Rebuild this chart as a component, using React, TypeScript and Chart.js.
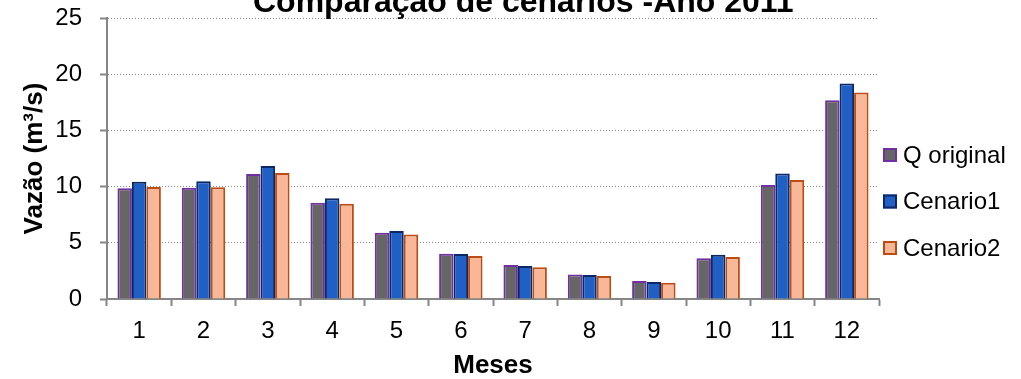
import React, { useEffect, useRef } from 'react';
import { Chart, registerables } from 'chart.js';

Chart.register(...registerables);

const months = ['1', '2', '3', '4', '5', '6', '7', '8', '9', '10', '11', '12'];
const qOriginal = [9.85, 9.9, 11.12, 8.57, 5.9, 4.03, 3.02, 2.19, 1.6, 3.62, 10.14, 17.7];
const cenario1 = [10.44, 10.47, 11.83, 8.96, 6.05, 4.0, 2.94, 2.13, 1.51, 3.94, 11.18, 19.19];
const cenario2 = [9.96, 9.94, 11.21, 8.48, 5.75, 3.83, 2.82, 2.05, 1.45, 3.74, 10.59, 18.39];
const seriesLabels = ['Q original', 'Cenario1', 'Cenario2'];
const yMin = 0;
const yMax = 25;
const yStep = 5;
const chartTitle = 'Comparação de cenários -Ano 2011';
const xTitle = 'Meses';
const yTitle = 'Vazão (m³/s)';

const FONT = '"Liberation Sans", Arial, Helvetica, sans-serif';

const titlePlugin = {
  id: 'clippedTitle',
  afterDraw(chart: any) {
    const ctx = chart.ctx;
    ctx.save();
    ctx.font = `bold 32px ${FONT}`;
    ctx.fillStyle = '#000000';
    ctx.textAlign = 'left';
    ctx.textBaseline = 'alphabetic';
    ctx.fillText(chartTitle, 253, 12);
    ctx.restore();
  },
};

const legendPlugin = {
  id: 'sideLegend',
  afterDraw(chart: any) {
    const ctx = chart.ctx;
    const x = chart.chartArea.right + 4;
    ctx.save();
    chart.data.datasets.forEach((ds: any, i: number) => {
      const cy = 155 + i * 46.5;
      ctx.fillStyle = ds.backgroundColor;
      ctx.fillRect(x, cy - 7, 14, 14);
      ctx.strokeStyle = ds.borderColor;
      ctx.lineWidth = 2;
      ctx.strokeRect(x + 1, cy - 6, 12, 12);
      ctx.font = `24px ${FONT}`;
      ctx.fillStyle = '#000000';
      ctx.textAlign = 'left';
      ctx.textBaseline = 'middle';
      ctx.fillText(ds.label, x + 20, cy + 1);
    });
    ctx.restore();
  },
};

export default function App() {
  const canvasRef = useRef<HTMLCanvasElement | null>(null);

  useEffect(() => {
    if (!canvasRef.current) return;
    const chart = new Chart(canvasRef.current, {
      type: 'bar',
      data: {
        labels: months,
        datasets: [
          {
            label: seriesLabels[0],
            data: qOriginal,
            backgroundColor: '#666666',
            borderColor: '#7030A0',
            borderWidth: 2,
          },
          {
            label: seriesLabels[1],
            data: cenario1,
            backgroundColor: '#2060C4',
            borderColor: '#0A2868',
            borderWidth: 2,
          },
          {
            label: seriesLabels[2],
            data: cenario2,
            backgroundColor: '#F8B898',
            borderColor: '#BC4C14',
            borderWidth: 2,
          },
        ],
      },
      options: {
        responsive: false,
        animation: false,
        devicePixelRatio: 1,
        layout: { padding: { top: 18, right: 142, left: 0, bottom: 0 } },
        datasets: {
          bar: { categoryPercentage: 0.675, barPercentage: 1 },
        },
        plugins: {
          legend: { display: false },
          title: { display: false },
          tooltip: { enabled: false },
        },
        scales: {
          x: {
            afterFit: (scale: any) => {
              scale.height = 80;
            },
            grid: {
              display: true,
              drawOnChartArea: false,
              drawTicks: true,
              tickLength: 7,
              tickColor: '#868686',
              tickWidth: 2,
              offset: true,
            },
            border: { display: true, color: '#868686', width: 2 },
            ticks: {
              color: '#000000',
              padding: 11,
              font: { family: FONT, size: 24 },
              maxRotation: 0,
              autoSkip: false,
            },
            title: {
              display: true,
              text: xTitle,
              color: '#000000',
              font: { family: FONT, size: 26, weight: 'bold' },
              padding: { top: 0, bottom: -2 },
            },
          },
          y: {
            min: yMin,
            max: yMax,
            afterFit: (scale: any) => {
              scale.width = 107;
            },
            grid: {
              display: true,
              drawOnChartArea: true,
              drawTicks: true,
              tickLength: 7,
              color: (c: any) => (c.tick && c.tick.value === 0 ? 'rgba(0,0,0,0)' : '#8c8c8c'),
              lineWidth: 1,
              tickColor: '#868686',
              tickWidth: 2,
            },
            border: { display: true, color: '#868686', width: 2, dash: [1, 2] },
            ticks: {
              stepSize: yStep,
              color: '#000000',
              padding: 18,
              font: { family: FONT, size: 24, lineHeight: 0.01 },
            },
            title: {
              display: true,
              text: yTitle,
              color: '#000000',
              font: { family: FONT, size: 26, weight: 'bold' },
              padding: { top: 19, bottom: 0 },
            },
          },
        },
      },
      plugins: [titlePlugin, legendPlugin],
    });
    return () => chart.destroy();
  }, []);

  return (
    <div style={{ position: 'fixed', left: 0, top: 0, width: 1021, height: 379, background: '#ffffff' }}>
      <canvas ref={canvasRef} width={1021} height={379} style={{ display: 'block' }} />
    </div>
  );
}
